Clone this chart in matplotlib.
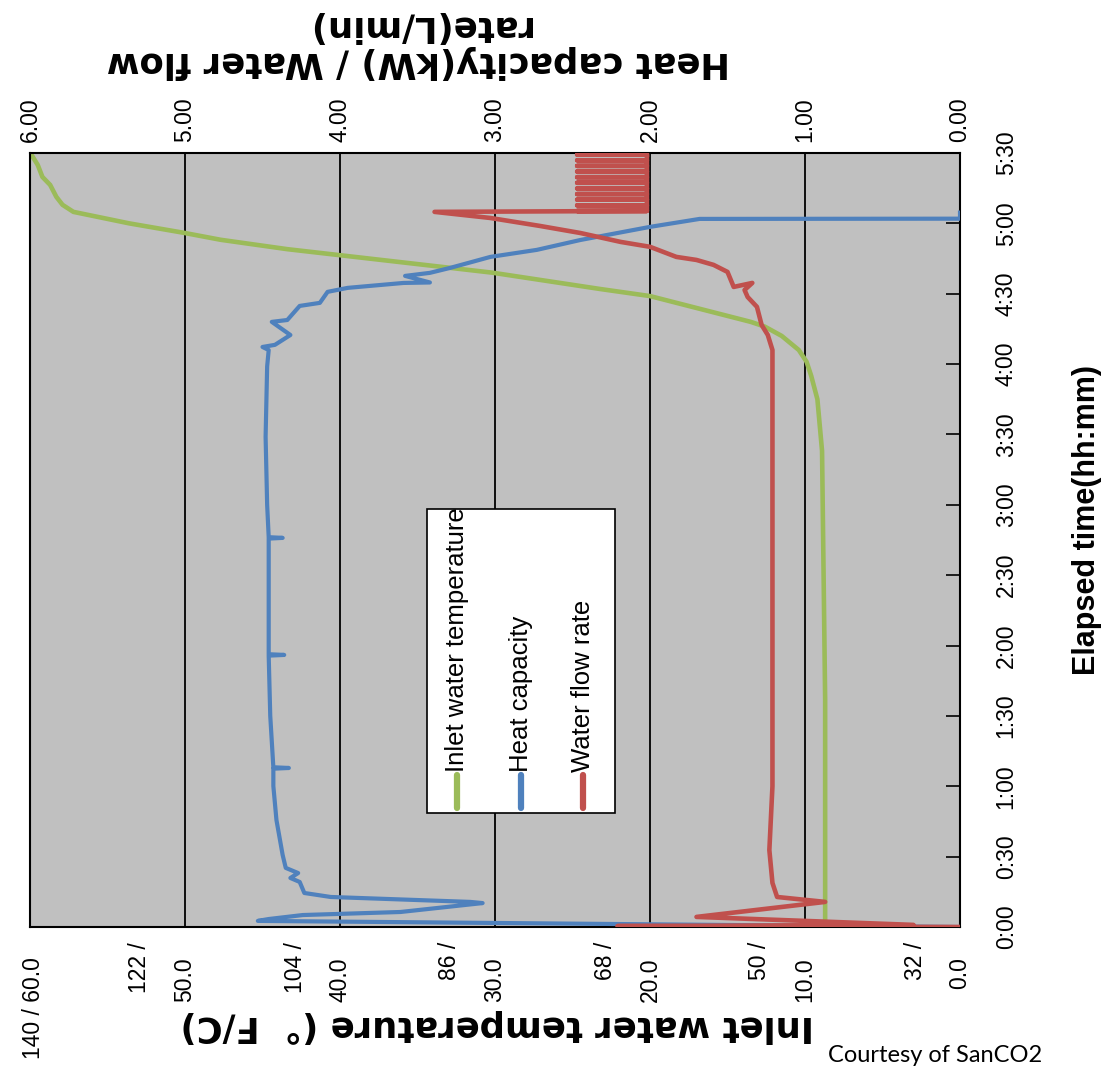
import matplotlib
matplotlib.use("Agg")
import matplotlib.pyplot as plt
from matplotlib.lines import Line2D
from matplotlib.patches import Rectangle
from matplotlib.transforms import offset_copy

W, H = 1112, 1069

# elapsed time (min) / inlet water temperature (deg C)
temp_time = [0, 30, 97, 150, 203, 225, 235, 241, 246, 252, 256, 258, 269, 272, 279,
             289, 293, 296, 300, 304.9, 307.9, 311.3, 316.4, 319.8, 324.9, 329.2]
temp_vals = [8.7, 8.7, 8.7, 8.8, 8.9, 9.2, 9.6, 9.9, 10.4, 11.5, 12.6, 13.5, 20.0, 23.2, 30.2,
             43.4, 47.7, 50.1, 53.6, 57.2, 57.9, 58.3, 58.7, 59.2, 59.5, 59.9]

# elapsed time (min) / heat capacity (kW)
cap_time = [0, 2.6, 3.4, 5.1, 6.4, 10.2, 10.7, 12.8, 14.5, 19.2, 20.9, 23.0, 25.2, 30.7,
            45.6, 60.1, 67.5, 67.8, 68.1, 90.0, 115.7, 116.0, 116.3, 120.0, 150.5,
            165.6, 165.9, 166.2, 180.0, 209.0, 239.0, 246.0, 247.3, 248.2, 252.4,
            258.0, 258.8, 264.8, 266.1, 270.8, 272.5, 274.6, 274.8, 277.6, 278.9,
            281.0, 285.7, 288.7, 292.9, 298.5, 301.9, 302.0, 304.6]
cap_vals = [0.0, 4.53, 4.46, 4.24, 3.61, 3.08, 3.16, 4.06, 4.23, 4.26, 4.32, 4.27, 4.35, 4.37,
            4.41, 4.43, 4.43, 4.33, 4.43, 4.45, 4.46, 4.36, 4.46, 4.46, 4.46,
            4.46, 4.37, 4.46, 4.47, 4.48, 4.47, 4.46, 4.50, 4.42, 4.32,
            4.44, 4.34, 4.26, 4.13, 4.08, 3.95, 3.59, 3.42, 3.58, 3.42,
            3.29, 3.03, 2.73, 2.45, 2.00, 1.68, 0.0, 0.0]

# elapsed time (min) / water flow rate (L/min)
flow_time = [0, 0.4, 0.9, 4.3, 10.7, 12.8, 18.8, 32.8, 60, 90, 120, 180, 239, 246,
             252.4, 256.7, 264.4, 268.6, 271.6, 274.6, 272.9, 279.3, 282.3, 284.4,
             285.7, 290.0, 292.1, 295.9, 298.9, 302.3, 304.9,
             305.3, 305.3, 305.3, 307.7, 307.7, 307.7, 310.1, 310.1, 310.1,
             312.5, 312.5, 312.5, 314.9, 314.9, 314.9, 317.3, 317.3, 317.3,
             319.7, 319.7, 319.7, 322.1, 322.1, 322.1, 324.5, 324.5, 324.5,
             326.9, 326.9, 326.9, 329.3, 329.3, 329.3]
flow_vals = [0.0, 2.21, 0.30, 1.70, 0.87, 1.18, 1.21, 1.23, 1.21, 1.21, 1.21, 1.21, 1.21, 1.21,
             1.24, 1.28, 1.31, 1.37, 1.39, 1.34, 1.46, 1.50, 1.59, 1.70,
             1.83, 2.00, 2.19, 2.45, 2.71, 3.03, 3.39,
             2.02, 2.47, 2.02, 2.02, 2.47, 2.02, 2.02, 2.47, 2.02,
             2.02, 2.47, 2.02, 2.02, 2.47, 2.02, 2.02, 2.47, 2.02,
             2.02, 2.47, 2.02, 2.02, 2.47, 2.02, 2.02, 2.47, 2.02,
             2.02, 2.47, 2.02, 2.02, 2.47, 2.02]

temp_ticks = [0, 10, 20, 30, 40, 50, 60]
temp_f_labels = ["32 /", "50 /", "68 /", "86 /", "104 /", "122 /", "140 /"]
cap_ticks = [0, 1, 2, 3, 4, 5, 6]
time_ticks = [0, 30, 60, 90, 120, 150, 180, 210, 240, 270, 300, 330]
time_labels = ["0:00", "0:30", "1:00", "1:30", "2:00", "2:30",
               "3:00", "3:30", "4:00", "4:30", "5:00", "5:30"]
legend_labels = ["Inlet water temperature", "Heat capacity", "Water flow rate"]
colors = ["#9bbb59", "#4f81bd", "#c0504d"]

NARROW = ["Liberation Sans Narrow", "Liberation Sans", "DejaVu Sans"]
BOLD = ["DejaVu Sans"]


def fx(px):
    return px / W


def fy(py):
    return 1 - py / H


fig = plt.figure(figsize=(W / 100, H / 100), dpi=100)
ax = fig.add_axes([fx(30), fy(927), 930 / W, 774 / H])
ax.set_facecolor("#c0c0c0")
ax.set_xlim(60, 0)
ax.set_ylim(0, 330)
for s in ax.spines.values():
    s.set_linewidth(1.5)
    s.set_color("black")

ax.set_xticks(temp_ticks)
ax.tick_params(axis="x", length=0, labelbottom=False)
ax.grid(axis="x", color="black", linewidth=1.3)
ax.set_axisbelow(True)

ax.yaxis.tick_right()
ax.set_yticks(time_ticks, time_labels, rotation=90, fontsize=16.5, family=NARROW)
for lab in ax.get_yticklabels():
    lab.set_va("center")
ax.tick_params(axis="y", direction="in", length=10, width=1.2, pad=25)

# temperature labels: deg F / deg C
for c, f in zip(temp_ticks, temp_f_labels):
    if c == 60:
        tr = offset_copy(ax.get_xaxis_transform(), fig=fig, x=4, y=-30, units="dots")
        ax.text(c, 0, f"{f} {c:.1f}", transform=tr, rotation=90, ha="center", va="top",
                fontsize=16.5, family=NARROW)
        continue
    tr_c = offset_copy(ax.get_xaxis_transform(), fig=fig, x=0, y=-30, units="dots")
    ax.text(c, 0, f"{c:.1f}", transform=tr_c, rotation=90, ha="center", va="top",
            fontsize=16.5, family=NARROW)
    tr_f = offset_copy(ax.get_xaxis_transform(), fig=fig, x=-45, y=-15, units="dots")
    ax.text(c, 0, f, transform=tr_f, rotation=90, ha="center", va="top",
            fontsize=16.5, family=NARROW)

ax.plot(temp_vals, temp_time, color=colors[0], linewidth=3.3, solid_joinstyle="round")

ax2 = ax.twiny()
ax2.set_xlim(6, 0)
ax2.set_xticks(cap_ticks, [f"{v:.2f}" for v in cap_ticks], rotation=90,
               fontsize=16.5, family=NARROW)
ax2.tick_params(axis="x", length=0, pad=8)
for s in ax2.spines.values():
    s.set_visible(False)
ax2.plot(cap_vals, cap_time, color=colors[1], linewidth=3.0, solid_joinstyle="round")
ax2.plot(flow_vals, flow_time, color=colors[2], linewidth=3.3, solid_joinstyle="round")

# axis titles (the chart is turned on its side)
fig.text(fx(1087), fy(520), "Elapsed time(hh:mm)", rotation=90, ha="center", va="center",
         fontsize=22, fontweight="bold", family=NARROW)
fig.text(fx(418), fy(44), "Heat capacity(kW) / Water flow\nrate(L/min)", rotation=180,
         ha="center", va="center", multialignment="center", fontsize=25.5,
         fontweight="bold", family=BOLD, linespacing=1.05)
fig.text(fx(497), fy(1026), "Inlet water temperature (°  F/C)", rotation=180,
         ha="center", va="center", fontsize=25.5, fontweight="bold", family=BOLD)
fig.text(fx(828), fy(1062), "Courtesy of SanCO2", ha="left", va="baseline",
         fontsize=17, family=["Lato", "DejaVu Sans"])

# legend, drawn by hand because it is rotated
fig.add_artist(Rectangle((fx(427), fy(813)), 188 / W, 304 / H, transform=fig.transFigure,
                         facecolor="white", edgecolor="black", linewidth=1.2, zorder=5))
for xp, lab, col in zip([457, 521, 583], legend_labels, colors):
    fig.add_artist(Line2D([fx(xp), fx(xp)], [fy(775), fy(808)], transform=fig.transFigure,
                          color=col, linewidth=4.5, solid_capstyle="round", zorder=6))
    fig.text(fx(xp), fy(772), lab, rotation=90, ha="center", va="bottom",
             fontsize=18.5, family=NARROW, zorder=6)

fig.savefig("out.png", dpi=100)
